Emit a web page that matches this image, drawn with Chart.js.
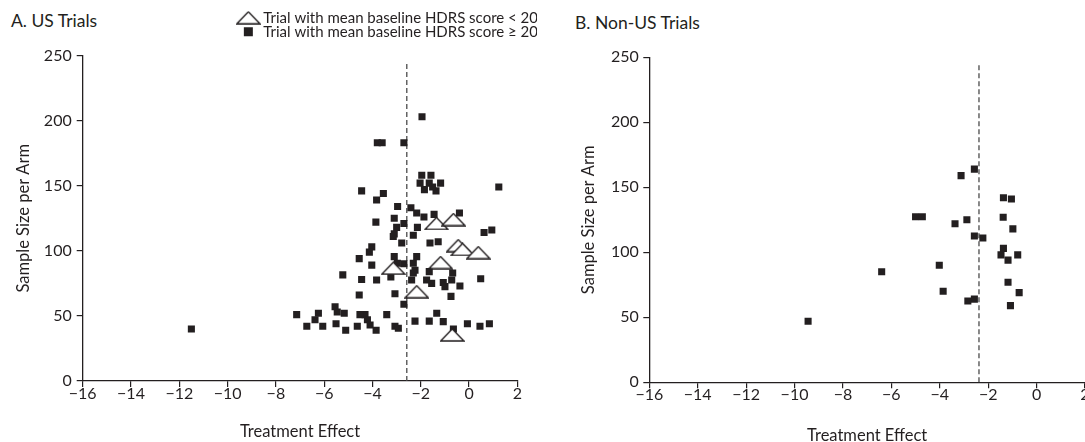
<!DOCTYPE html>
<html>
<head>
<meta charset="utf-8">
<title>Treatment effect vs sample size per arm</title>
<script src="https://cdn.jsdelivr.net/npm/chart.js@4.4.1/dist/chart.umd.min.js"></script>
<style>
  html, body { margin: 0; padding: 0; background: #fff; overflow: hidden; }
  body { width: 1085px; height: 442px; position: relative; font-family: Lato, sans-serif; color: #231f20; }
  .panel-title { position: absolute; font-size: 17.5px; line-height: 17px; white-space: nowrap; }
  #chartA { position: absolute; left: 0; top: 0; }
  #chartB { position: absolute; left: 540px; top: 0; }
</style>
</head>
<body>
<div class="panel-title" style="left:11px; top:12px;">A. US Trials</div>
<div class="panel-title" style="left:575px; top:14px;">B. Non-US Trials</div>
<canvas id="chartA" width="540" height="442"></canvas>
<canvas id="chartB" width="560" height="448"></canvas>
<script>
// US trials, mean baseline HDRS score >= 20 (filled squares)
const usEffect = [
  -1.95, -3.8, -3.6, -2.7, -1.96, -1.58, -2.03, -1.65, -1.18, -1.85,
  -1.37, -1.51, 1.23, -4.45, -3.55, -3.83, -2.96, -2.41, -2.17, -1.87,
  -1.45, -0.4, -3.86, -3.1, -2.7, -3.0, -2.14, -2.31, -3.1, -3.14,
  -2.79, -1.62, -1.28, 0.62, 0.94, -4.03, -4.13, -4.55, -3.1, -2.97,
  -2.17, -2.31, -2.24, -4.03, -2.7, -5.23, -4.45, -3.83, -3.24, -2.31,
  -2.38, -1.65, -1.76, -1.55, -1.07, -1.0, -0.68, -0.72, -0.38, 0.48,
  -4.55, -3.07, -0.75, -2.7, -5.55, -5.46, -5.17, -7.14, -6.24, -6.38,
  -6.72, -6.06, -5.51, -5.11, -4.31, -4.21, -4.1, -3.85, -4.52, -4.63,
  -3.41, -3.07, -2.93, -2.24, -1.65, -1.34, -1.07, -0.65, -0.07, 0.45,
  0.84, -11.5
];
const usSize = [
  203, 183, 183, 183, 158, 158, 152, 152, 152, 147,
  146, 149, 149, 146, 144, 139, 134, 133, 129, 126,
  128, 129, 122, 125, 121, 118, 118, 112, 113, 111,
  106, 106, 107, 114, 116, 103, 99, 94, 95.5, 90.5,
  95.5, 90.5, 85, 89, 90, 81.5, 78, 77.6, 80, 83,
  77.6, 84, 77.6, 75, 75.6, 72.5, 83, 77.6, 73, 78.6,
  66, 67, 65, 59, 57, 53, 52, 51, 52, 47,
  42, 42, 44, 39, 51, 47, 43, 39, 51, 42,
  51, 42, 40.5, 46, 46, 52, 45.6, 40, 44, 42,
  44, 40
];

// US trials, mean baseline HDRS score < 20 (open triangles)
const usLowEffect = [-1.35, -0.65, -0.45, -0.27, 0.38, -1.18, -3.14, -2.17, -0.7];
const usLowSize = [121, 124, 104, 101, 98.6, 91, 86.6, 68.6, 35.4];

// Non-US trials
const nonUsEffect = [
  -2.57, -3.12, -1.37, -1.04, -5.0, -4.72, -1.38, -2.88, -3.37, -0.98,
  -2.57, -2.22, -1.37, -1.47, -0.78, -1.18, -4.02, -6.4, -1.18, -3.86,
  -0.72, -2.57, -2.84, -1.08, -9.44
];
const nonUsSize = [
  164, 159, 142, 141, 127.4, 127.4, 127, 125, 122, 118,
  112.5, 111, 103, 98, 98, 94, 90, 85, 77, 70,
  69, 64, 62.5, 59, 47
];

// dashed reference lines (mean treatment effect)
const usMeanEffect = -2.58;
const nonUsMeanEffect = -2.38;
const refLineSpan = [0, 245];

const effectTicks = [-16, -14, -12, -10, -8, -6, -4, -2, 0, 2];
const sizeTicks = [0, 50, 100, 150, 200, 250];

const legendLabels = [
  'Trial with mean baseline HDRS score < 20',
  'Trial with mean baseline HDRS score \u2265 20'
];

const INK = '#231f20';
const FONT = 'Lato, sans-serif';

const toPoints = (xs, ys) => xs.map((x, i) => ({ x: x, y: ys[i] }));
const refLine = (x) => refLineSpan.map(y => ({ x: x, y: y }));
const fmtTick = (v) => (v < 0 ? '\u2212' + Math.abs(v) : String(v));

// flat open triangle used as point style
function makeTriangle(w, h) {
    const c = document.createElement('canvas');
    c.width = w;
    c.height = h;
    const g = c.getContext('2d');
    g.beginPath();
    g.moveTo(w / 2, 1);
    g.lineTo(w - 1, h - 1);
    g.lineTo(1, h - 1);
    g.closePath();
    g.fillStyle = '#fff';
    g.fill();
    g.lineWidth = 1.3;
    g.strokeStyle = INK;
    g.stroke();
    return c;
}
const triangle = makeTriangle(25, 14);

function squares(label, points) {
    return {
        label: label,
        data: points,
        pointStyle: 'rect',
        pointRadius: 5,
        pointBorderWidth: 0,
        backgroundColor: INK,
        borderColor: INK,
        borderWidth: 0
    };
}

function dashed(x) {
    return {
        type: 'line',
        data: refLine(x),
        borderColor: '#4a4a4a',
        borderWidth: 1.3,
        borderDash: [5, 3],
        pointRadius: 0,
        showLine: true
    };
}

function makeScales(o) {
    return {
        x: {
            type: 'linear',
            min: effectTicks[0],
            max: effectTicks[effectTicks.length - 1],
            afterBuildTicks: s => { s.ticks = effectTicks.map(v => ({ value: v })); },
            afterFit: s => { s.height = o.xHeight; },
            grid: { drawOnChartArea: false, drawTicks: true, tickLength: 6, color: INK, lineWidth: 1.2 },
            border: { display: true, color: INK, width: 1.3 },
            ticks: { color: INK, font: { family: FONT, size: 16 }, padding: -3, maxRotation: 0, callback: fmtTick },
            title: {
                display: true, text: 'Treatment Effect', color: INK,
                font: { family: FONT, size: 16.5, lineHeight: 1 },
                padding: { top: 0, bottom: o.xTitlePad }
            }
        },
        y: {
            type: 'linear',
            min: sizeTicks[0],
            max: sizeTicks[sizeTicks.length - 1],
            afterBuildTicks: s => { s.ticks = sizeTicks.map(v => ({ value: v })); },
            afterFit: s => { s.width = o.yWidth; },
            grid: { drawOnChartArea: false, drawTicks: true, tickLength: 6, color: INK, lineWidth: 1.2 },
            border: { display: true, color: INK, width: 1.3 },
            ticks: { color: INK, font: { family: FONT, size: 16 }, padding: o.yTickPad, callback: fmtTick },
            title: {
                display: true, text: 'Sample Size per Arm', color: INK,
                font: { family: FONT, size: 16.5, lineHeight: 1 },
                padding: { top: o.yTitlePad, bottom: 0 }
            }
        }
    };
}

// extra room between the legend and the plot
const legendGap = {
    id: 'legendGap',
    beforeInit(chart) {
        const fit = chart.legend.fit;
        chart.legend.fit = function () {
            fit.call(this);
            this.height += 6.3;
        };
    }
};

// Panel A: US trials
const scalesA = makeScales({ xHeight: 61, xTitlePad: 1.75, yWidth: 82.7, yTickPad: 5, yTitlePad: 15.25 });
scalesA.pad = {
    type: 'linear', axis: 'y', position: 'right', display: true,
    afterFit: s => { s.width = 19.6; },
    grid: { display: false }, border: { display: false }, ticks: { display: false }
};

new Chart(document.getElementById('chartA'), {
    type: 'scatter',
    data: {
        datasets: [
            {
                label: legendLabels[0],
                data: toPoints(usLowEffect, usLowSize),
                pointStyle: triangle,
                backgroundColor: '#fff',
                borderColor: INK,
                borderWidth: 1.3
            },
            squares(legendLabels[1], toPoints(usEffect, usSize)),
            dashed(usMeanEffect)
        ]
    },
    options: {
        responsive: false,
        animation: false,
        events: [],
        layout: { padding: { top: 11.2, left: 0, right: 3, bottom: 0 } },
        plugins: {
            tooltip: { enabled: false },
            legend: {
                position: 'top',
                align: 'end',
                labels: {
                    usePointStyle: true,
                    boxHeight: 9,
                    padding: -1,
                    color: INK,
                    font: { family: FONT, size: 15 },
                    filter: item => item.datasetIndex < 2
                }
            }
        },
        scales: scalesA
    },
    plugins: [legendGap]
});

// Panel B: non-US trials
new Chart(document.getElementById('chartB'), {
    type: 'scatter',
    data: {
        datasets: [
            squares('Non-US trial', toPoints(nonUsEffect, nonUsSize)),
            dashed(nonUsMeanEffect)
        ]
    },
    options: {
        responsive: false,
        animation: false,
        events: [],
        layout: { padding: { top: 57.3, left: 0, right: 15, bottom: 0 } },
        plugins: {
            tooltip: { enabled: false },
            legend: { display: false }
        },
        scales: makeScales({ xHeight: 65.7, xTitlePad: 3.75, yWidth: 109.3, yTickPad: 4.5, yTitlePad: 40.75 })
    }
});
</script>
</body>
</html>
